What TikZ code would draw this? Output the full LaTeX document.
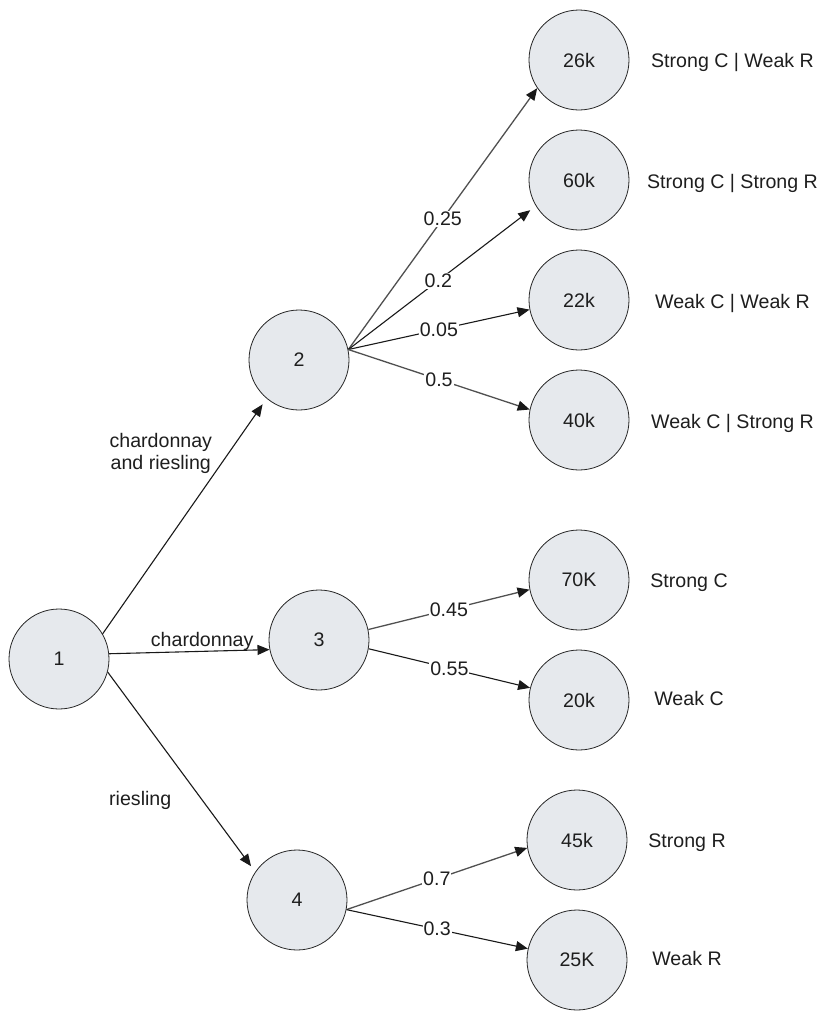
\documentclass[tikz,border=0pt]{standalone}
\usepackage{fontspec}
\setmainfont{Liberation Sans}
\usetikzlibrary{arrows.meta}
\definecolor{nodefill}{RGB}{230,233,237}
\definecolor{txt}{RGB}{30,30,30}
\definecolor{edgegray}{RGB}{80,80,80}
\begin{document}
\begin{tikzpicture}[x=1pt,y=-1pt,
  font=\fontsize{19.6}{22}\selectfont,
  state/.style={circle, draw=black!85, line width=0.8pt, fill=nodefill,
    minimum size=100pt, inner sep=0pt, text=txt},
  lbl/.style={text=txt, inner sep=0pt},
  olbl/.style={lbl, text depth=0pt},
  edge/.style={line width=1.1pt, draw=black!90,
    -{Triangle[length=12pt,width=10pt,color=black!90]}},
  gedge/.style={edge, line width=1.3pt, draw=edgegray},
  elabel/.style={fill=white, inner sep=1pt, text=txt}]
\useasboundingbox (0,0) rectangle (829,1020);
% main nodes
\node[state] (n1) at (59,659) {1};
\node[state] (n2) at (299,360) {2};
\node[state] (n3) at (319,640) {3};
\node[state] (n4) at (297,900) {4};
% outcome nodes
\node[state] (a26) at (579,60) {26k};
\node[state] (a60) at (579,180) {60k};
\node[state] (a22) at (579,300) {22k};
\node[state] (a40) at (579,420) {40k};
\node[state] (a70) at (579,580) {70K};
\node[state] (a20) at (579,700) {20k};
\node[state] (a45) at (577,840) {45k};
\node[state] (a25) at (577,960) {25K};
% outcome texts
\node[olbl] (t26) at (732.5,60) {Strong C | Weak R};
\node[olbl] (t60) at (732.5,181) {Strong C | Strong R};
\node[olbl] (t22) at (732.5,301) {Weak C | Weak R};
\node[olbl] (t40) at (732.5,421) {Weak C | Strong R};
\node[olbl] (t70) at (689,581) {Strong C};
\node[olbl] (t20) at (689,698) {Weak C};
\node[olbl] (t45) at (687,841) {Strong R};
\node[olbl] (t25) at (687,958) {Weak R};
% edges from 1
\draw[edge,shorten >=7pt] (n1.30) -- node[lbl,pos=0.768,left=16pt,align=center]{chardonnay\\and riesling} (n2.230);
\draw[edge] (n1.6) -- node[lbl,pos=0.58,yshift=10pt]{chardonnay} (n3.191);
\draw[edge,shorten >=7pt] (n1.345) -- node[lbl,pos=0.645,left=31pt]{riesling} (n4.146);
% edges from 2
\draw[gedge] (n2.12) -- node[elabel,pos=0.5]{0.25} (a26.214);
\draw[edge,shorten >=7pt] (n2.12) -- node[elabel,pos=0.48]{0.2} (a60.211);
\draw[edge] (n2.12) -- node[elabel,pos=0.5]{0.05} (a22.191);
\draw[gedge] (n2.12) -- node[elabel,pos=0.5]{0.5} (a40.168);
% edges from 3
\draw[gedge] (n3.12) -- node[elabel,pos=0.5]{0.45} (a70.191);
\draw[edge] (n3.350) -- node[elabel,pos=0.5]{0.55} (a20.166);
% edges from 4
\draw[gedge] (n4.349) -- node[elabel,pos=0.5]{0.7} (a45.189);
\draw[edge] (n4.349) -- node[elabel,pos=0.5]{0.3} (a25.167);
\end{tikzpicture}
\end{document}
